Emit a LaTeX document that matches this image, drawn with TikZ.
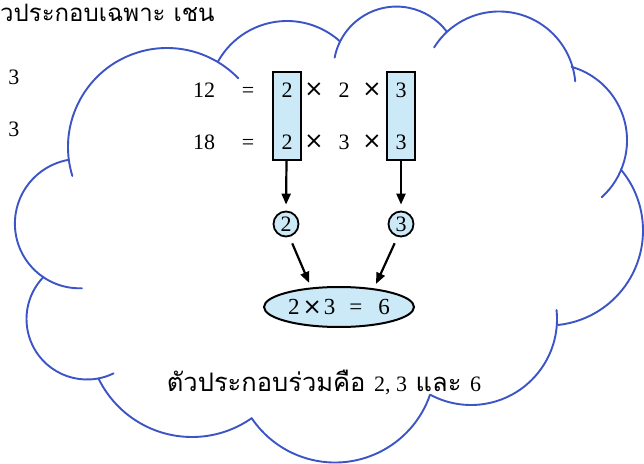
\documentclass[tikz,border=0pt]{standalone}
\usepackage{fontspec}
\setmainfont{Liberation Serif}
\newfontfamily\thaifont[Script=Thai]{Loma}
\newfontfamily\symfont{DejaVu Sans}
\usetikzlibrary{shapes.geometric,arrows.meta}
\definecolor{cloudblue}{RGB}{60,84,198}
\definecolor{paleblue}{RGB}{204,233,247}
\newcommand\numsize{\fontsize{22}{26}\selectfont}
\newcommand\timessign{{\symfont\fontsize{23}{26}\selectfont ×}}
\tikzset{
  cloudline/.style={draw=cloudblue,line width=1.9pt,line cap=round},
  numtext/.style={font=\numsize,inner sep=0pt,anchor=base},
  timestext/.style={font=\symfont\fontsize{23}{26}\selectfont,inner sep=0pt,anchor=base},
  factbox/.style={draw=black,fill=paleblue,line width=2pt,minimum width=28pt,minimum height=88pt,inner sep=0pt},
  factcircle/.style={circle,draw=black,fill=paleblue,line width=1.8pt,minimum size=25pt,inner sep=0pt,font=\numsize},
  prodellipse/.style={ellipse,draw=black,fill=paleblue,line width=2pt,minimum width=150pt,minimum height=40pt,inner sep=0pt,font=\fontsize{23}{26}\selectfont},
  flow/.style={-{Triangle[length=11pt,width=9pt]},line width=2.2pt},
  thaitext/.style={font=\thaifont\fontsize{25.5}{28}\selectfont,inner sep=0pt,anchor=base}
}
% one bump of the cloud: centre x, centre y, radius, start angle, end angle
\newcommand\cloudarc[5]{\draw[cloudline] ([shift={(#1,#2)}]#4:#3) arc[start angle=#4,end angle=#5,radius=#3];}
\begin{document}
\begin{tikzpicture}[x=1pt,y=1pt]
  \useasboundingbox (0,0) rectangle (644,463);
  \fill[white] (0,0) rectangle (644,463);
  \clip (0,0) rectangle (644,463);

  % cloud outline, clockwise from the upper left bump
  \cloudarc{167}{316}{99}{197}{44}
  \cloudarc{287}{363}{79}{151}{48}
  \cloudarc{396.5}{393.4}{63}{169}{37}
  \cloudarc{499}{375}{76.5}{148}{5}
  \cloudarc{550.5}{322.6}{76.5}{74}{-48}
  \cloudarc{548}{232.5}{95}{40}{-84}
  \cloudarc{471}{144}{86}{6}{-118}
  \cloudarc{335}{101}{100.5}{-19}{-146}
  \cloudarc{192}{130}{104}{-55}{-154}
  \cloudarc{87}{144}{60.5}{-64}{-224}
  \cloudarc{79.6}{239.4}{64.7}{-88}{-260}

  % running text at the edges
  \node[thaitext,font=\thaifont\fontsize{24}{28}\selectfont,anchor=base west] (head) at (0,441) {วประกอบเฉพาะ เชน};
  \node[numtext] (lead1) at (14,378) {3};
  \node[numtext] (lead2) at (14,326) {3};

  % highlighted common factors
  \node[factbox] (boxL) at (286.5,347) {};
  \node[factbox] (boxR) at (401,347) {};

  % 12 = 2 x 2 x 3
  \node[numtext] (n12) at (204,365.5) {12};
  \node[numtext] (eqA) at (248,365.5) {=};
  \node[numtext] (a1) at (287,365.5) {2};
  \node[timestext] (xa1) at (314,366) {×};
  \node[numtext] (a2) at (344,365.5) {2};
  \node[timestext] (xa2) at (372,366) {×};
  \node[numtext] (a3) at (401,365.5) {3};

  % 18 = 2 x 3 x 3
  \node[numtext] (n18) at (204,313.5) {18};
  \node[numtext] (eqB) at (248,313.5) {=};
  \node[numtext] (b1) at (287,313.5) {2};
  \node[timestext] (xb1) at (314,314) {×};
  \node[numtext] (b2) at (344,313.5) {3};
  \node[timestext] (xb2) at (372,314) {×};
  \node[numtext] (b3) at (401,313.5) {3};

  % picked factors and their product
  \node[factcircle] (circL) at (286,239) {2};
  \node[factcircle] (circR) at (401,239) {3};
  \node[prodellipse] (ell) at (339,156) {2\hspace{3pt}\timessign\hspace{2pt}3\hspace{14pt}=\hspace{16pt}6};

  \draw[flow,shorten >=6pt] (boxL.south) -- (circL.north);
  \draw[flow,shorten >=6pt] (boxR.south) -- (circR.north);
  \draw[flow,shorten <=7pt,shorten >=5pt] (circL.-75) -- (ell.145);
  \draw[flow,shorten <=7pt,shorten >=5pt] (circR.-105) -- (ell.28);

  % conclusion
  \node[thaitext] (result) at (324,72) {ตัวประกอบร่วมคือ {\rmfamily\numsize 2, 3} และ {\rmfamily\numsize 6}};
\end{tikzpicture}
\end{document}
